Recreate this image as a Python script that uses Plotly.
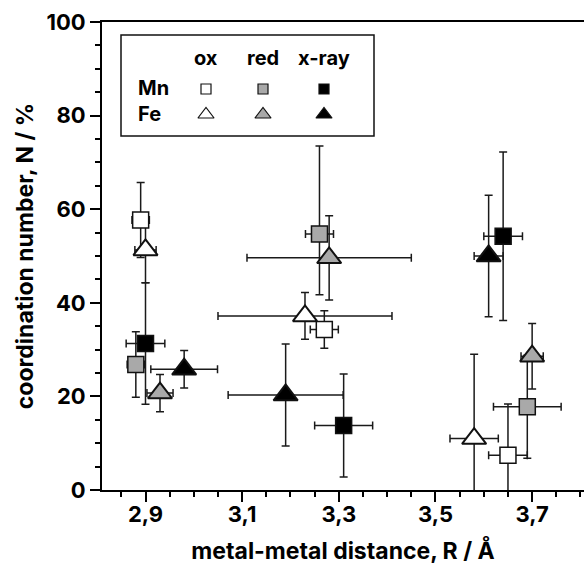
import plotly.graph_objects as go

# ---------------- data ----------------
# Mn, oxidized (open squares)
mn_ox_x = [2.89, 3.27, 3.65]
mn_ox_y = [57.7, 34.3, 7.4]
mn_ox_xerr = [0.018, 0.029, 0.04]
mn_ox_yerr = [8, 4, 11]

# Mn, reduced (grey squares)
mn_red_x = [2.88, 3.26, 3.69]
mn_red_y = [26.8, 54.7, 17.8]
mn_red_xerr = [0.018, 0.029, 0.07]
mn_red_yerr_plus = [7, 18.8, 11]
mn_red_yerr_minus = [7, 13.0, 11]

# Mn, x-ray (black squares)
mn_xr_x = [2.90, 3.31, 3.64]
mn_xr_y = [31.3, 13.8, 54.2]
mn_xr_xerr = [0.04, 0.06, 0.04]
mn_xr_yerr = [13, 11, 18]

# Fe, oxidized (open triangles)
fe_ox_x = [2.90, 3.23, 3.58]
fe_ox_y = [51.3, 37.2, 11.0]
fe_ox_xerr = [0.022, 0.18, 0.05]
fe_ox_yerr = [7, 5, 18]

# Fe, reduced (grey triangles)
fe_red_x = [2.93, 3.28, 3.70]
fe_red_y = [20.7, 49.6, 28.6]
fe_red_xerr = [0.027, 0.17, 0.023]
fe_red_yerr = [4, 9, 7]

# Fe, x-ray (black triangles)
fe_xr_x = [2.98, 3.19, 3.61]
fe_xr_y = [25.8, 20.3, 50.0]
fe_xr_xerr = [0.069, 0.119, 0.03]
fe_xr_yerr = [4, 10.9, 13]

x_title = "metal-metal distance, R / Å"
y_title = "coordination number, N / %"
legend_cols = ["ox", "red", "x-ray"]
legend_rows = ["Mn", "Fe"]

# ---------------- style ----------------
FONT = "Inter, Liberation Sans, Arial, sans-serif"
GREY = "#a9a9a9"
EBC = "#1a1a1a"
W, H = 584, 572
L, R, T, B = 102, 0, 22, 82

series = [
    (mn_ox_x, mn_ox_y, mn_ox_xerr, mn_ox_yerr, mn_ox_yerr, "square", "white"),
    (mn_red_x, mn_red_y, mn_red_xerr, mn_red_yerr_plus, mn_red_yerr_minus, "square", GREY),
    (mn_xr_x, mn_xr_y, mn_xr_xerr, mn_xr_yerr, mn_xr_yerr, "square", "black"),
    (fe_ox_x, fe_ox_y, fe_ox_xerr, fe_ox_yerr, fe_ox_yerr, "triangle-up", "white"),
    (fe_red_x, fe_red_y, fe_red_xerr, fe_red_yerr, fe_red_yerr, "triangle-up", GREY),
    (fe_xr_x, fe_xr_y, fe_xr_xerr, fe_xr_yerr, fe_xr_yerr, "triangle-up", "black"),
]

fig = go.Figure()

# error bars first (below all markers)
for xs, ys, xe, yp, ym, sym, col in series:
    fig.add_trace(go.Scatter(
        x=xs, y=ys, mode="markers",
        marker=dict(size=1, opacity=0),
        error_x=dict(type="data", array=xe, color=EBC, thickness=1.5, width=4),
        error_y=dict(type="data", array=yp, arrayminus=ym, symmetric=False,
                     color=EBC, thickness=1.5, width=4),
        showlegend=False, hoverinfo="skip"))

for xs, ys, xe, yp, ym, sym, col in series:
    size = 16 if sym == "square" else 21
    lw = 1.5 if sym == "square" else 2
    fig.add_trace(go.Scatter(
        x=xs, y=ys, mode="markers",
        marker=dict(symbol=sym, size=size, color=col,
                    line=dict(color="#111111", width=lw)),
        showlegend=False))

# ---------------- custom legend ----------------
pw = W - L - R
ph = H - T - B


def px_x(p):
    return (p - L) / pw


def px_y(p):
    return 1 - (p - T) / ph


col_px = [206, 263, 324]
row_px = [89, 114.5]
fills = ["white", GREY, "black"]
syms = ["square", "triangle-up"]

for ri, sym in enumerate(syms):
    for ci, f in enumerate(fills):
        fig.add_trace(go.Scatter(
            x=[px_x(col_px[ci])], y=[px_y(row_px[ri])],
            xaxis="x2", yaxis="y2", mode="markers",
            marker=dict(symbol=sym, size=10 if sym == "square" else 14,
                        color=f, line=dict(color="#111111", width=1.2)),
            showlegend=False, hoverinfo="skip"))

fig.add_shape(type="rect", xref="paper", yref="paper",
              x0=px_x(121), x1=px_x(374), y0=px_y(136), y1=px_y(35),
              line=dict(color="#111111", width=1.5), fillcolor="rgba(0,0,0,0)")

lfont = dict(family=FONT, size=20, color="black", weight="bold")
for ci, t in enumerate(legend_cols):
    fig.add_annotation(text=t, xref="paper", yref="paper", x=px_x(col_px[ci]),
                       y=px_y(58), xanchor="center", yanchor="middle",
                       showarrow=False, font=lfont)
for ri, t in enumerate(legend_rows):
    fig.add_annotation(text=t, xref="paper", yref="paper", x=px_x(136),
                       y=px_y([88, 114][ri]), xanchor="left", yanchor="middle",
                       showarrow=False, font=lfont)

tickfont = dict(family=FONT, size=22, color="black", weight="bold")
titlefont = dict(family=FONT, size=23, color="black", weight="bold")

fig.update_layout(
    width=W, height=H,
    margin=dict(l=L, r=R, t=T, b=B, pad=0),
    paper_bgcolor="white", plot_bgcolor="white",
    separators=", ",
    xaxis=dict(
        range=[2.81, 2.81 + pw / 483.3], tick0=2.9, dtick=0.2, tickformat=".1f",
        ticks="outside", ticklen=10, tickwidth=2, tickcolor="black",
        minor=dict(dtick=0.05, tick0=2.9, ticks="outside", ticklen=5,
                   tickwidth=1.5, tickcolor="black"),
        showline=True, linecolor="black", linewidth=2, mirror=True,
        showgrid=False, zeroline=False, tickfont=tickfont,
        ticklabelstandoff=-6,
        title=dict(text=x_title, font=titlefont, standoff=16),
    ),
    yaxis=dict(
        range=[0, 100], tick0=0, dtick=20,
        ticks="outside", ticklen=10, tickwidth=2, tickcolor="black",
        minor=dict(dtick=5, ticks="outside", ticklen=5, tickwidth=1.5,
                   tickcolor="black"),
        showline=True, linecolor="black", linewidth=2, mirror=False,
        showgrid=False, zeroline=False, tickfont=tickfont,
        title=dict(text=y_title, font=titlefont, standoff=6),
    ),
    xaxis2=dict(overlaying="x", range=[0, 1], visible=False),
    yaxis2=dict(overlaying="y", range=[0, 1], visible=False),
    showlegend=False,
)

fig.write_html("out.html")
